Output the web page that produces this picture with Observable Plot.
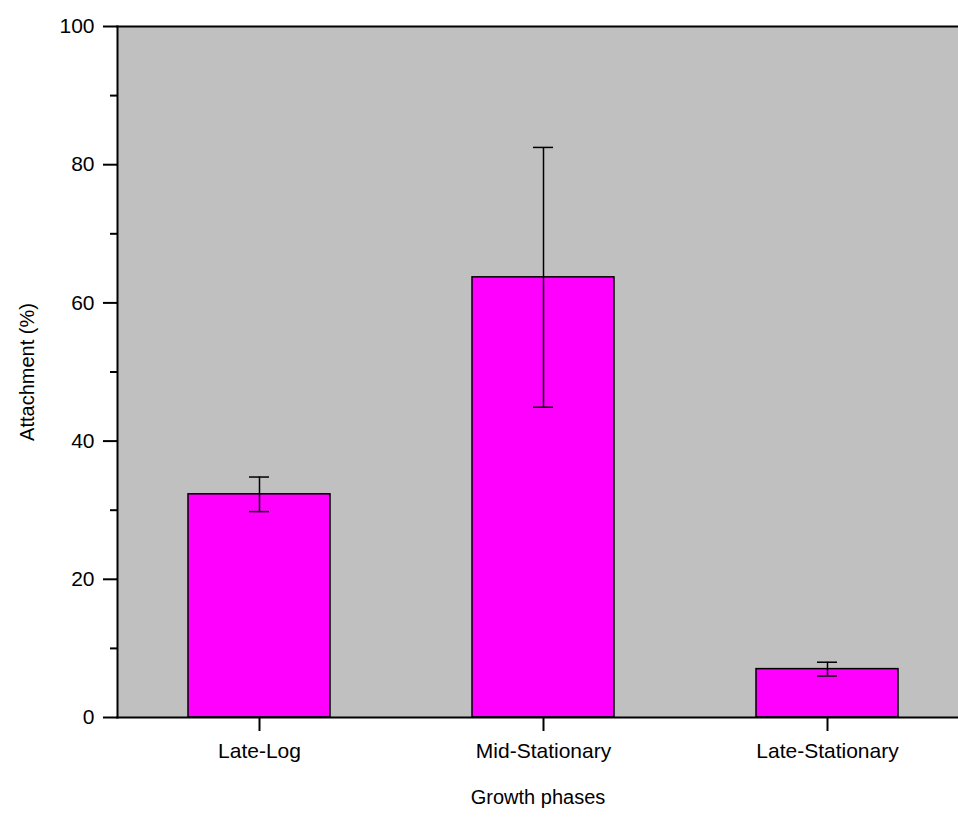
<!DOCTYPE html>
<html>
<head>
<meta charset="utf-8">
<script src="https://cdn.jsdelivr.net/npm/d3@7"></script>
<script src="https://cdn.jsdelivr.net/npm/@observablehq/plot@0.6"></script>
<style>
  html, body { margin: 0; padding: 0; background: #fff; }
  #chart svg { display: block; }
</style>
</head>
<body>
<div id="chart"></div>
<script>
const phases = ["Late-Log", "Mid-Stationary", "Late-Stationary"];
const attachment = [32.3, 63.7, 7.0];
const errors = [2.5, 18.8, 1.0];
const majorTicks = [0, 20, 40, 60, 80, 100];
const minorTicks = [10, 30, 50, 70, 90];

const data = phases.map((p, i) => ({phase: p, value: attachment[i], err: errors[i]}));

const font = "Liberation Sans, Arial, sans-serif";
const fsTick = 21;
const fsLabel = 20;

const chart = Plot.plot({
  width: 958,
  height: 835,
  marginLeft: 117,
  marginRight: 0,
  marginTop: 26,
  marginBottom: 118,
  style: {fontFamily: font, fontSize: fsTick + "px", color: "black", background: "white"},
  x: {type: "band", domain: phases, range: [117, 969], paddingInner: 0.5, paddingOuter: 0.25},
  y: {domain: [0, 100]},
  marks: [
    Plot.frame({fill: "#c0c0c0", stroke: "none"}),
    Plot.barY(data, {x: "phase", y: "value", fill: "#ff00ff", stroke: "black", strokeWidth: 1.5}),
    Plot.ruleX(data, {x: "phase", y1: d => d.value - d.err, y2: d => d.value + d.err, stroke: "black", strokeWidth: 1.5}),
    Plot.tickY(data, {x: "phase", y: d => d.value + d.err, stroke: "black", strokeWidth: 1.5, insetLeft: 61, insetRight: 61}),
    Plot.tickY(data, {x: "phase", y: d => d.value - d.err, stroke: "black", strokeWidth: 1.5, insetLeft: 61, insetRight: 61}),
    Plot.frame({anchor: "top", stroke: "black", strokeWidth: 2}),
    Plot.frame({anchor: "bottom", stroke: "black", strokeWidth: 2}),
    Plot.frame({anchor: "left", stroke: "black", strokeWidth: 2}),
    Plot.axisY({ticks: majorTicks, tickSize: 14, tickPadding: 9, strokeWidth: 2, fontSize: fsTick, label: null}),
    Plot.axisY({ticks: minorTicks, tickSize: 7, strokeWidth: 2, tickFormat: () => "", label: null}),
    Plot.axisX({tickSize: 14, tickPadding: 12, strokeWidth: 2, fontSize: fsTick, label: null}),
    Plot.text(["Attachment (%)"], {frameAnchor: "left", dx: -90, rotate: -90, textAnchor: "middle", fontSize: fsLabel, fill: "black"}),
    Plot.text(["Growth phases"], {frameAnchor: "bottom", dy: 86, textAnchor: "middle", fontSize: fsLabel, fill: "black"})
  ]
});

document.getElementById("chart").appendChild(chart);
</script>
</body>
</html>
